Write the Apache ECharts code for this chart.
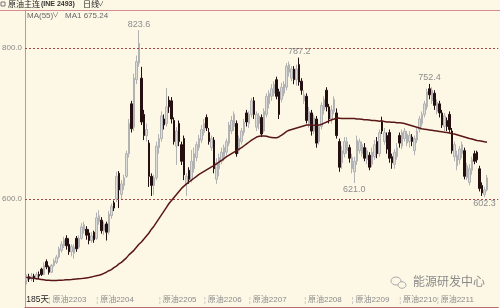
<!DOCTYPE html>
<html><head><meta charset="utf-8">
<script src="https://cdn.jsdelivr.net/npm/echarts@6/dist/echarts.min.js"></script>
<style>html,body{margin:0;padding:0;background:#fdf8e6;}#c{width:500px;height:308px;}</style>
</head><body><div id="c"></div>
<script>
// OHLC (index = trading day 0..184)
const opens=[492,497,494,498,495,500,507,500,517,510,503,512,516,523,532,538,548,540,530,528,548,536,548,558,560,555,545,556,548,570,572,558,567,556,578,595,600,634,606,618,630,660,726,695,758,780,760,712,684,674,630,618,628,668,680,706,700,731,730,704,670,700,672,680,620,638,626,640,655,668,678,688,708,688,668,678,626,640,650,656,662,674,690,696,700,664,676,688,714,700,712,730,695,700,708,690,712,726,736,740,758,742,732,740,748,768,760,772,758,778,756,730,736,700,714,690,706,676,696,718,744,722,706,716,714,676,648,660,664,668,640,636,650,664,660,668,652,658,646,656,676,660,702,676,684,688,656,646,656,684,670,680,674,676,682,664,678,692,700,712,722,746,730,740,716,726,714,696,704,712,690,656,644,652,660,664,628,622,638,660,662,640,618,606,612];
const closes=[497,494,498,495,500,498,500,512,510,503,512,518,523,534,540,546,538,530,537,536,534,548,563,566,552,545,551,546,575,578,558,566,556,580,590,588,630,612,620,628,660,700,693,760,782,806,702,684,692,630,618,628,670,680,710,698,722,722,706,676,690,676,650,632,630,626,650,660,672,680,692,700,694,676,680,640,648,655,662,668,676,698,704,712,660,680,690,702,702,712,730,712,712,710,686,716,736,740,746,752,736,712,748,752,776,778,772,758,772,755,744,738,704,716,690,708,674,696,724,732,722,706,718,732,684,642,664,676,676,654,655,650,678,676,672,654,664,642,662,672,660,688,690,688,666,654,648,662,668,674,688,690,686,684,676,680,690,706,712,726,742,738,744,724,728,714,698,710,696,692,664,672,658,666,672,630,644,640,652,650,652,614,608,612,628];
const lows=[487,490,491,490,493,494,498,499,507,500,502,510,514,521,529,535,533,526,524,521,530,534,546,554,546,540,542,542,546,566,554,552,545,553,574,584,596,588,600,612,628,655,688,690,752,775,698,678,676,616,604,605,625,660,676,692,696,714,700,672,645,670,645,625,604,620,622,635,650,664,674,684,690,672,664,634,620,630,646,650,658,670,686,690,656,660,672,684,696,694,708,706,690,692,682,688,708,720,730,736,732,706,728,736,744,762,756,752,750,750,738,726,700,694,684,686,668,672,692,712,716,700,700,712,680,636,640,655,660,648,634,621.0,645,660,656,650,646,638,642,652,654,656,686,672,660,648,640,640,652,668,666,676,670,668,670,658,674,688,696,708,718,732,726,718,712,708,694,690,690,688,660,650,638,646,654,626,625,618,632,646,648,610,604,602.3,610];
const highs=[500,501,502,501,503,504,509,516,520,512,514,521,526,537,544,550,552,548,540,540,551,552,568,570,564,560,556,558,582,585,576,570,570,584,594,598,636,637,625,632,664,706,730,766,790,823.6,775,718,700,678,634,632,676,686,716,712,747,736,735,708,695,704,676,684,634,642,665,668,676,685,698,706,712,694,684,682,654,660,668,672,680,702,710,716,704,684,694,706,718,716,734,735,716,714,712,720,740,744,752,756,762,746,754,756,780,782,776,776,778,787.2,760,744,740,722,718,712,710,700,728,736,748,726,724,736,720,680,670,682,682,672,660,656,684,680,676,674,668,662,668,678,682,692,709,694,688,692,660,666,674,688,692,694,690,690,686,684,694,710,716,730,746,752.4,748,744,732,730,718,714,708,716,694,676,664,670,676,668,648,646,656,664,664,644,622,616,632];
// MA(55)
const ma55=[496,496,495.5,495,494.5,494,493.5,493,492.5,492.3,492,492,492,492.3,492.5,492.7,493,493,493.3,493.7,494,494.3,494.6,495,495.5,496,496.7,497.5,498.3,499,500,501.5,503,505,506.5,509,511,514,516,519,522,526,529,532,536,540,543,547,551,555,560,564,569,574,579,584,589,594,598,602,606,610,614,617,620,622.5,625,627.5,630,632.5,634.5,636.5,638.5,640.5,642.5,644.5,646.5,649,651,653.5,656,658,660,662,664,666,668,670.5,673,675.5,678,680,682,683,683.5,683.5,683,682,681.5,681,681,682.5,684.5,687,689.5,691,692,693,694,695,696,697,698,698,698,697.5,697.5,698,699,700.5,702,703.5,705,706,707.5,707,706.5,706.5,706.5,706.5,706.5,706.5,706,706,705.5,705,705,704.5,704,704,703.5,703,703.5,702.5,702,702,701.5,701.5,701,701,700.5,700,699,698,697,696,695,694,693,692.5,692,691.5,691,690.5,690,689.5,689,688.5,688,687.5,686.5,686,685,684,683,682,681,680,679.5,678.5,677.5,677,676.5,675.8,675.24];
const gridValues=[600,800];
const axisTicks=[[0,'185天'],[9,'原油2203'],[28,'原油2204'],[53,'原油2205'],[71,'原油2206'],[89,'原油2207'],[111,'原油2208'],[130,'原油2209'],[149,'原油2210'],[164,'原油2211']];
const extremes=[[45,823.6,'top'],[109,787.2,'top'],[131,621.0,'bottom'],[161,752.4,'top'],[183,602.3,'bottom']];
const emptySlots=4;

const FF='"Liberation Sans","Noto Sans CJK SC",sans-serif';
const cats=opens.map((_,i)=>'d'+i);
for(let k=0;k<emptySlots;k++) cats.push('pad'+k);
const ohlc=opens.map((o,i)=>[o,closes[i],lows[i],highs[i]]);
const tickMap=new Map(axisTicks);

const chart=echarts.init(document.getElementById('c'),null,{renderer:'canvas'});
chart.setOption({
  animation:false,
  backgroundColor:'#fdf8e6',
  grid:{left:25,right:0,top:10,bottom:1},
  xAxis:{type:'category',data:cats,boundaryGap:true,
    axisLine:{show:true,lineStyle:{color:'#b86a6a',width:1}},
    axisTick:{show:false},splitLine:{show:false},
    axisLabel:{inside:true,margin:3,align:'left',showMinLabel:true,showMaxLabel:false,hideOverlap:false,
      interval:0,
      formatter:(v,idx)=>{const t=tickMap.get(idx); if(t===undefined) return ''; return idx===0?'{d|'+t+'}':'{t|¦ }{c|'+t+'}';},
      rich:{d:{color:'#222',fontSize:8.5,fontFamily:FF},t:{color:'#aaa',fontSize:7,fontFamily:FF},c:{color:'#8a8a8a',fontSize:8,fontFamily:FF}}}},
  yAxis:{type:'value',min:456.95,max:850.3,scale:true,
    axisLine:{show:true,lineStyle:{color:'#d58e8e',width:1}},
    axisLabel:{show:false},axisTick:{show:false},splitLine:{show:false}},
  series:[
    {type:'candlestick',data:ohlc,barWidth:2,
      itemStyle:{color:'#dcdcdc',borderColor:'#b2b2b2',color0:'#241010',borderColor0:'#241010',borderWidth:1},
      markLine:{silent:true,symbol:'none',animation:false,
        data:gridValues.map(v=>({yAxis:v})),
        lineStyle:{color:'#a04848',type:[2,2],width:1},
        label:{position:'start',distance:3,color:'#888',fontSize:8,fontFamily:FF,formatter:p=>Number(p.value).toFixed(1)}},
      markPoint:{silent:true,symbol:'circle',symbolSize:1,itemStyle:{color:'rgba(0,0,0,0)'},
        data:extremes.map(([i,v,pos])=>({coord:[i,v],value:v,label:{position:pos}})),
        label:{show:true,distance:1,color:'#8c8c8c',fontSize:9,fontFamily:FF,formatter:p=>Number(p.value).toFixed(1)}}},
    {type:'line',data:ma55,showSymbol:false,symbol:'none',z:5,
      lineStyle:{color:'#5a1616',width:1.5}}
  ],
  graphic:[
    {type:'line',shape:{x1:0,y1:10.5,x2:500,y2:10.5},style:{stroke:'#d58e8e',lineWidth:1},z:10},
    {type:'rect',shape:{x:1,y:2,width:4,height:4},style:{fill:'none',stroke:'#777',lineWidth:1}},
    {type:'text',x:8,y:4.5,style:{text:'原油主连',fill:'#222',fontSize:8,fontFamily:FF,verticalAlign:'middle'}},
    {type:'text',x:41,y:4.5,style:{text:'(INE 2493)',fill:'#333',fontSize:7,fontWeight:'bold',fontFamily:FF,verticalAlign:'middle'}},
    {type:'text',x:83,y:4.5,style:{text:'日线',fill:'#222',fontSize:8,fontFamily:FF,verticalAlign:'middle'}},
    {type:'text',x:97,y:4.5,style:{text:'∨',fill:'#444',fontSize:7,fontFamily:FF,verticalAlign:'middle'}},
    {type:'text',x:27,y:15.5,style:{text:'MA(55)',fill:'#666',fontSize:8,fontFamily:FF,verticalAlign:'middle'}},
    {type:'text',x:52,y:15.5,style:{text:'∨',fill:'#666',fontSize:7,fontFamily:FF,verticalAlign:'middle'}},
    {type:'text',x:65,y:15.5,style:{text:'MA1 675.24',fill:'#666',fontSize:8,fontFamily:FF,verticalAlign:'middle'}},
    {type:'ellipse',shape:{cx:396,cy:281,rx:5,ry:4},style:{fill:'none',stroke:'#aaa',lineWidth:1}},
    {type:'ellipse',shape:{cx:402,cy:285,rx:4,ry:3.3},style:{fill:'#fdf8e6',stroke:'#aaa',lineWidth:1}},
    {type:'text',x:413,y:283,style:{text:'能源研发中心',fill:'#8a8a8a',fontSize:12,fontFamily:FF,verticalAlign:'middle'}}
  ]
});
</script></body></html>
